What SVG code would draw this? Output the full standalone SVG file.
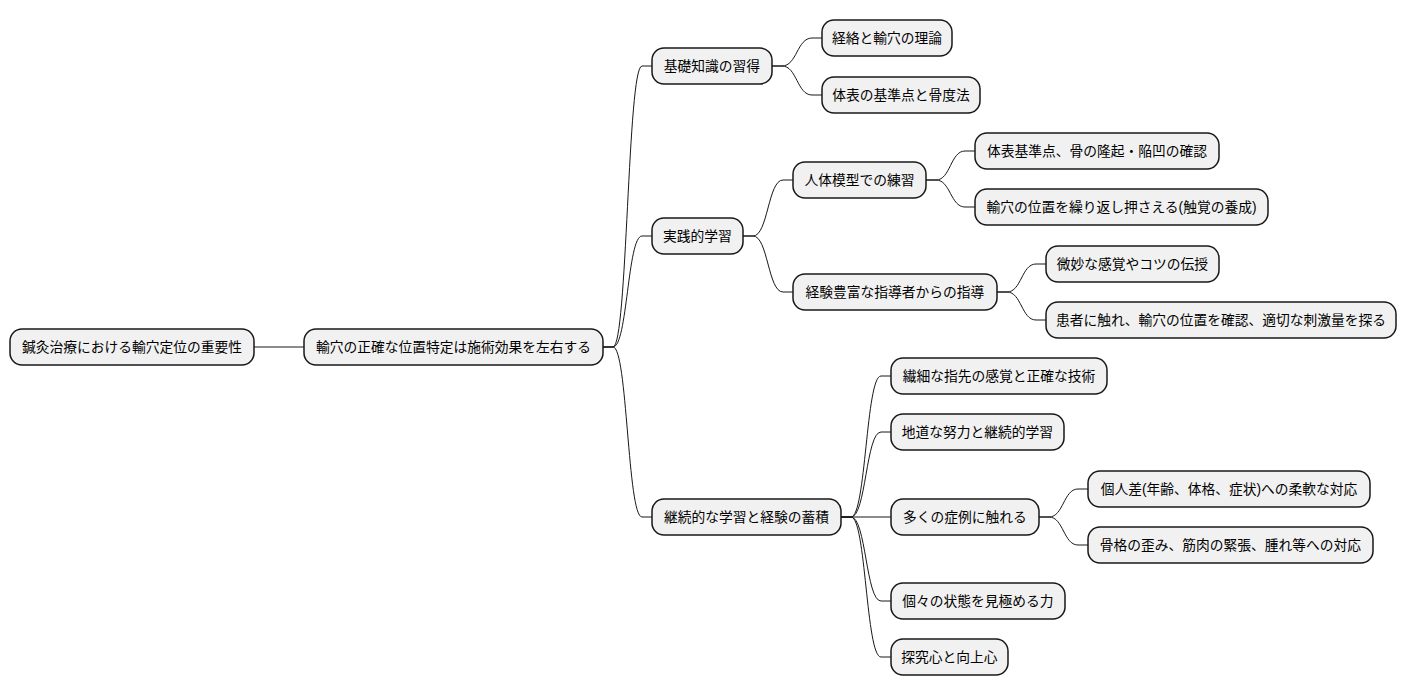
<svg xmlns="http://www.w3.org/2000/svg" width="1412" height="696" viewBox="0 0 1412 696">
<style>
.n rect{fill:#F1F1F1;stroke:#181818;stroke-width:1.5}
.n text{font-family:"Liberation Sans","Noto Sans CJK JP",sans-serif;font-size:13.75px;fill:#000;text-anchor:middle}
.c path{fill:none;stroke:#181818;stroke-width:1}
</style>
<rect width="1412" height="696" fill="#FFFFFF"/>
<g class="c" id="connectors">
<path d="M254,347 L304,347"/>
<path d="M603,347 L613,347 C627.5,347 627.5,66 642,66 L652,66"/>
<path d="M603,347 L613,347 C627.5,347 627.5,236 642,236 L652,236"/>
<path d="M603,347 L613,347 C627.5,347 627.5,517 642,517 L652,517"/>
<path d="M772,66 L782,66 C797,66 797,38 812,38 L822,38"/>
<path d="M772,66 L782,66 C797,66 797,95 812,95 L822,95"/>
<path d="M743,236 L753,236 C768,236 768,180 783,180 L793,180"/>
<path d="M743,236 L753,236 C768,236 768,292 783,292 L793,292"/>
<path d="M926,180 L936,180 C950.5,180 950.5,151 965,151 L975,151"/>
<path d="M926,180 L936,180 C950.5,180 950.5,207 965,207 L975,207"/>
<path d="M997,292 L1007,292 C1021.5,292 1021.5,264 1036,264 L1046,264"/>
<path d="M997,292 L1007,292 C1021.5,292 1021.5,320 1036,320 L1046,320"/>
<path d="M841,517 L851,517 C866,517 866,376 881,376 L891,376"/>
<path d="M841,517 L851,517 C866,517 866,432 881,432 L891,432"/>
<path d="M841,517 L891,517"/>
<path d="M841,517 L851,517 C866,517 866,601 881,601 L891,601"/>
<path d="M841,517 L851,517 C866,517 866,657 881,657 L891,657"/>
<path d="M1039,517 L1049,517 C1063.5,517 1063.5,489 1078,489 L1088,489"/>
<path d="M1039,517 L1049,517 C1063.5,517 1063.5,545 1078,545 L1088,545"/>
</g>
<g class="n" id="root"><rect x="10" y="329" width="244" height="36" rx="12"/><text x="132" y="352">鍼灸治療における輸穴定位の重要性</text></g>
<g class="n" id="main"><rect x="304" y="329" width="299" height="36" rx="12"/><text x="453.5" y="352">輸穴の正確な位置特定は施術効果を左右する</text></g>
<g class="n" id="a"><rect x="652" y="48" width="120" height="36" rx="12"/><text x="712" y="71">基礎知識の習得</text></g>
<g class="n" id="b"><rect x="652" y="218" width="91" height="36" rx="12"/><text x="697.5" y="241">実践的学習</text></g>
<g class="n" id="c"><rect x="652" y="499" width="189" height="36" rx="12"/><text x="746.5" y="522">継続的な学習と経験の蓄積</text></g>
<g class="n" id="a1"><rect x="822" y="20" width="130" height="36" rx="12"/><text x="887" y="43">経絡と輸穴の理論</text></g>
<g class="n" id="a2"><rect x="822" y="77" width="158" height="36" rx="12"/><text x="901" y="100">体表の基準点と骨度法</text></g>
<g class="n" id="b1"><rect x="793" y="162" width="133" height="36" rx="12"/><text x="859.5" y="185">人体模型での練習</text></g>
<g class="n" id="b2"><rect x="793" y="274" width="204" height="36" rx="12"/><text x="895" y="297">経験豊富な指導者からの指導</text></g>
<g class="n" id="b1a"><rect x="975" y="133" width="244" height="36" rx="12"/><text x="1097" y="156">体表基準点、骨の隆起・陥凹の確認</text></g>
<g class="n" id="b1b"><rect x="975" y="189" width="293" height="36" rx="12"/><text x="1121.5" y="212">輸穴の位置を繰り返し押さえる(触覚の養成)</text></g>
<g class="n" id="b2a"><rect x="1046" y="246" width="173" height="36" rx="12"/><text x="1132.5" y="269">微妙な感覚やコツの伝授</text></g>
<g class="n" id="b2b"><rect x="1046" y="302" width="350" height="36" rx="12"/><text x="1221" y="325">患者に触れ、輸穴の位置を確認、適切な刺激量を探る</text></g>
<g class="n" id="c1"><rect x="891" y="358" width="216" height="36" rx="12"/><text x="999" y="381">繊細な指先の感覚と正確な技術</text></g>
<g class="n" id="c2"><rect x="891" y="414" width="173" height="36" rx="12"/><text x="977.5" y="437">地道な努力と継続的学習</text></g>
<g class="n" id="c3"><rect x="891" y="499" width="148" height="36" rx="12"/><text x="965" y="522">多くの症例に触れる</text></g>
<g class="n" id="c4"><rect x="891" y="583" width="174" height="36" rx="12"/><text x="978" y="606">個々の状態を見極める力</text></g>
<g class="n" id="c5"><rect x="891" y="639" width="117" height="36" rx="12"/><text x="949.5" y="662">探究心と向上心</text></g>
<g class="n" id="c3a"><rect x="1088" y="471" width="282" height="36" rx="12"/><text x="1229" y="494">個人差(年齢、体格、症状)への柔軟な対応</text></g>
<g class="n" id="c3b"><rect x="1088" y="527" width="285" height="36" rx="12"/><text x="1230.5" y="550">骨格の歪み、筋肉の緊張、腫れ等への対応</text></g>
</svg>
